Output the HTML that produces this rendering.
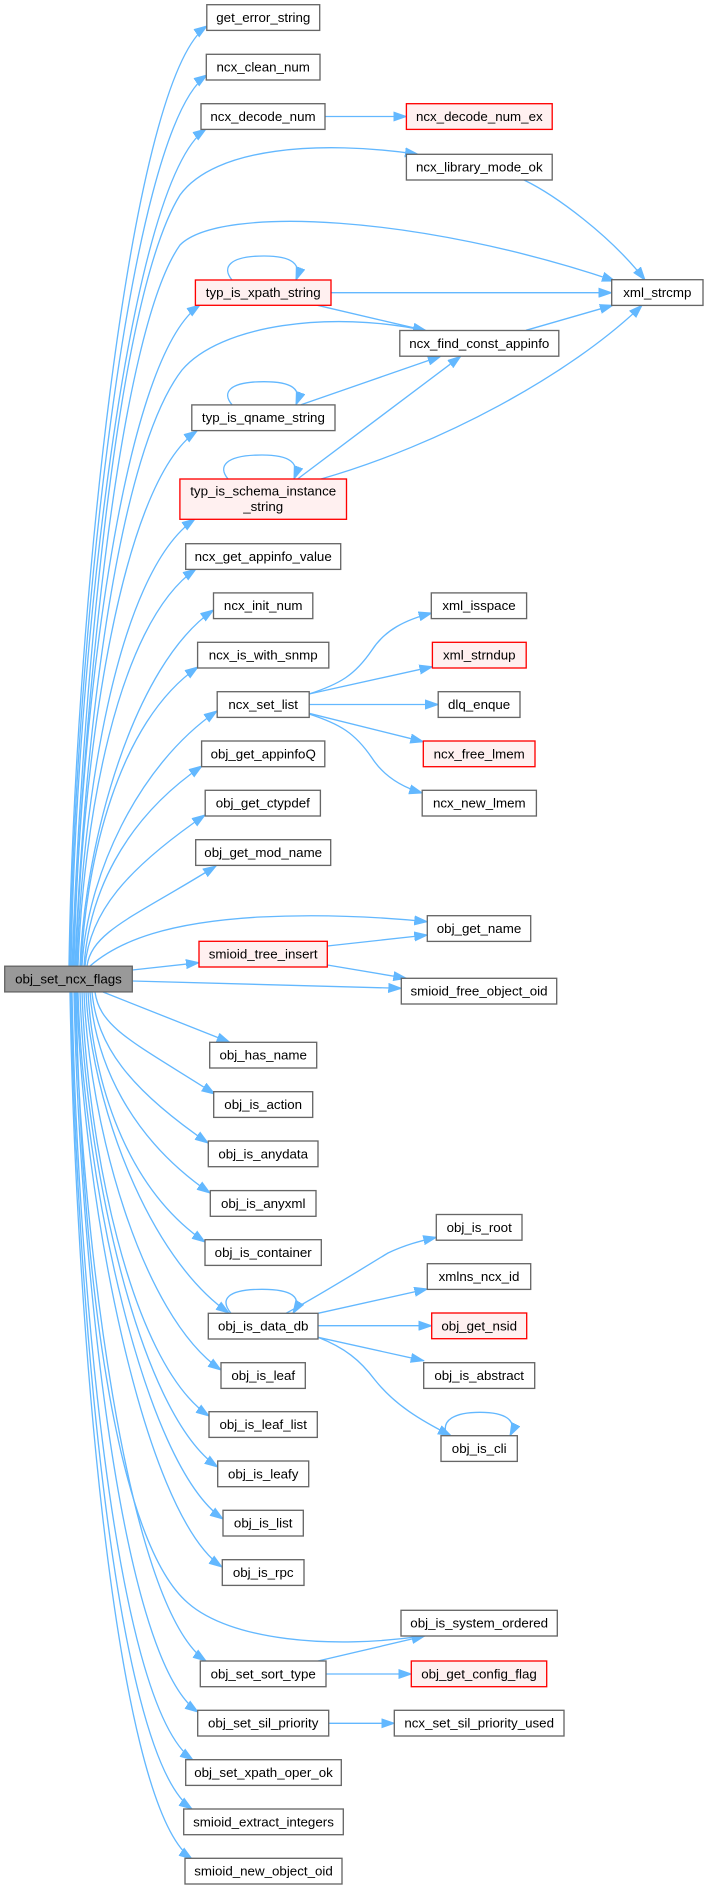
<!DOCTYPE html>
<html><head><meta charset="utf-8"><style>
html,body{margin:0;padding:0;background:#fff;}
svg{display:block;}
text{font-family:"Liberation Sans",Arial,sans-serif;font-size:13.33px;fill:#000;text-anchor:middle;}
.n{fill:#fff;stroke:#666;stroke-width:1.33;}
.r{fill:#fff0f0;stroke:#ff0000;stroke-width:1.33;}
.g{fill:#999;stroke:#666;stroke-width:1.33;}
.e{fill:none;stroke:#63b8ff;stroke-width:1.33;marker-end:url(#a);}
</style></head><body>
<svg width="708" height="1889" viewBox="0 0 708 1889" xmlns="http://www.w3.org/2000/svg">
<defs><marker id="a" markerUnits="userSpaceOnUse" markerWidth="14" markerHeight="10" refX="13" refY="5" orient="auto"><path d="M0,0.5 L13,5 L0,9.5z" fill="#63b8ff" stroke="#63b8ff" stroke-width="1"/></marker></defs>

<!-- edges from obj_set_ncx_flags upward -->
<path class="e" d="M69,966 C74,637 127,81 207,26"/>
<path class="e" d="M70,966 C75,654 127,130 207,75"/>
<path class="e" d="M71,966 C76,673 126,184 206,129"/>
<path class="e" d="M72,966 C82,700 115,300 180,195 C215,147 320,140 418,154.3"/>
<path class="e" d="M73,966 C83,700 120,330 180,245 C220,205 420,215 615,281"/>
<path class="e" d="M74,966 C79,735 120,360 200,305"/>
<path class="e" d="M75,966 C85,720 120,450 182,370 C220,325 330,310 426,330.7"/>
<path class="e" d="M76,966 C81,779 117,486 197,431"/>
<path class="e" d="M77,966 C82,810 115,574 195,519"/>
<path class="e" d="M78,966 C83,827 116,624 196,569"/>
<path class="e" d="M80,966 C85,841 133.5,665 213.5,610"/>
<path class="e" d="M81,966 C86,861 118,722 198,667"/>
<path class="e" d="M82,966 C87,877 137,766 217,711"/>
<path class="e" d="M84,966 C89,896 122,821 202,766"/>
<path class="e" d="M85,966 C90,913 125,870 205,815"/>
<path class="e" d="M87,966 C92,931 136,916 216,866"/>
<path class="e" d="M90,966 C120,940 170,922 260,917 C320,914 380,917 427.3,921.7"/>
<path class="e" d="M132.3,970 L199,962.7"/>
<path class="e" d="M132.3,981 C250,984 330,986 401.3,988.3"/>

<!-- edges from obj_set_ncx_flags downward -->
<path class="e" d="M103,992 L229.7,1042.3"/>
<path class="e" d="M95,992 C100,1028 134.7,1043 214.7,1094"/>
<path class="e" d="M92,992 C97,1045 128,1088 208,1143"/>
<path class="e" d="M90,992 C95,1062 130,1138 210,1193"/>
<path class="e" d="M88,992 C93,1080 125,1187 205,1242"/>
<path class="e" d="M86,992 C91,1104 149,1258 229,1313"/>
<path class="e" d="M84,992 C89,1124 141,1315 221,1370"/>
<path class="e" d="M82,992 C87,1140 129,1361 209,1416"/>
<path class="e" d="M80,992 C85,1158 137.7,1412 217.7,1467"/>
<path class="e" d="M78,992 C83,1176 143,1464 223,1519"/>
<path class="e" d="M77,992 C82,1193 142,1512 222,1567"/>
<path class="e" d="M76,992 C82,1300 120,1545 188,1603 C230,1640 330,1650 424.7,1635.7"/>
<path class="e" d="M75,992 C80,1226 126,1606 206,1661"/>
<path class="e" d="M74,992 C79,1244 118,1657 198,1712"/>
<path class="e" d="M72,992 C77,1261 113,1705 193,1760"/>
<path class="e" d="M71,992 C76,1278 112,1754 192,1809"/>
<path class="e" d="M70,992 C75,1295 112,1804 192,1859"/>

<!-- secondary edges -->
<path class="e" d="M325,116.5 L406.4,116.5"/>
<path class="e" d="M524,180 C555,195 610,235 645,280"/>
<path class="e" d="M232,280 C222,268 228,256 264,256 C292,256 302,264 296,280"/>
<path class="e" d="M331,292.7 L611.7,292.7"/>
<path class="e" d="M317.5,305.3 L426,330.7"/>
<path class="e" d="M526,330.3 L612.8,305.3"/>
<path class="e" d="M232,404.7 C222,393 228,381.7 264,381.7 C292,381.7 302,389 296,404.7"/>
<path class="e" d="M301,404.7 L440.7,356.3"/>
<path class="e" d="M228,479 C218,467 224,455 262,455 C290,455 300,463 294,479"/>
<path class="e" d="M297.6,479 L460.7,356.3"/>
<path class="e" d="M321,479 C440,445 570,375 642,305.3"/>
<path class="e" d="M309,694 C340,684 355,675 372,650 C385,630 405,620 431.7,613"/>
<path class="e" d="M309,694 L432.4,666.7"/>
<path class="e" d="M309,704.5 L438.2,704.5"/>
<path class="e" d="M309,713.3 L423.3,741.7"/>
<path class="e" d="M309,714 C340,724 355,733 372,758 C385,778 405,788 422.2,793"/>
<path class="e" d="M327.3,946 L427.3,935"/>
<path class="e" d="M327.3,965 L406.3,978.3"/>
<path class="e" d="M231,1313.3 C220,1300 226,1289.3 262,1289.3 C292,1289.3 303,1297 293,1313.3"/>
<path class="e" d="M286,1313.3 C320,1295 360,1270 388,1253 C405,1245 420,1241 436.3,1237.3"/>
<path class="e" d="M318,1313.3 L427.3,1289"/>
<path class="e" d="M318,1325.7 L431.7,1325.7"/>
<path class="e" d="M318,1337.3 L423.7,1360.7"/>
<path class="e" d="M318,1337.3 C345,1348 360,1360 375,1380 C395,1405 420,1420 451,1435.7"/>
<path class="e" d="M447,1435.7 C440,1420 455,1412.3 480,1412.3 C505,1412.3 518,1420 510,1435.7"/>
<path class="e" d="M318,1661 L424.7,1636"/>
<path class="e" d="M326,1674 L411.3,1674"/>
<path class="e" d="M328.7,1723.3 L394.3,1723.3"/>

<!-- nodes -->
<rect class="n" x="206.8" y="4.7" width="112.9" height="25.7"/><text x="263.3" y="22">get_error_string</text>
<rect class="n" x="206.3" y="54.3" width="113.7" height="25.7"/><text x="263.2" y="71.6">ncx_clean_num</text>
<rect class="n" x="201" y="103.7" width="124" height="25.7"/><text x="263" y="121">ncx_decode_num</text>
<rect class="r" x="406.4" y="103.7" width="145.8" height="25.7"/><text x="479.3" y="121">ncx_decode_num_ex</text>
<rect class="n" x="406.4" y="154.3" width="145.8" height="25.7"/><text x="479.3" y="171.6">ncx_library_mode_ok</text>
<rect class="n" x="611.7" y="279.7" width="91.3" height="25.7"/><text x="657.3" y="297">xml_strcmp</text>
<rect class="r" x="195.4" y="280" width="135.6" height="25.3"/><text x="263.2" y="297.2">typ_is_xpath_string</text>
<rect class="n" x="399.8" y="330.5" width="159" height="25.7"/><text x="479.3" y="347.8">ncx_find_const_appinfo</text>
<rect class="n" x="191.8" y="404.9" width="143.2" height="25.7"/><text x="263.4" y="422.2">typ_is_qname_string</text>
<rect class="r" x="179.9" y="479" width="166.6" height="40.3"/><text x="263.2" y="495.5">typ_is_schema_instance</text><text x="263.2" y="510.8">_string</text>
<rect class="n" x="185.7" y="543.7" width="155" height="25.7"/><text x="263.2" y="561">ncx_get_appinfo_value</text>
<rect class="n" x="213.5" y="592.9" width="99.3" height="25.7"/><text x="263.2" y="610.2">ncx_init_num</text>
<rect class="n" x="197.6" y="642.3" width="131.2" height="25.7"/><text x="263.2" y="659.6">ncx_is_with_snmp</text>
<rect class="n" x="217.2" y="691.7" width="92" height="25.7"/><text x="263.2" y="709">ncx_set_list</text>
<rect class="n" x="201.6" y="741" width="123.2" height="25.7"/><text x="263.2" y="758.3">obj_get_appinfoQ</text>
<rect class="n" x="205.2" y="790.3" width="115.2" height="25.7"/><text x="262.8" y="807.6">obj_get_ctypdef</text>
<rect class="n" x="195.7" y="839.7" width="135" height="25.7"/><text x="263.2" y="857">obj_get_mod_name</text>
<rect class="n" x="431.3" y="592.9" width="95.3" height="25.7"/><text x="479" y="610.2">xml_isspace</text>
<rect class="r" x="432.4" y="642.3" width="93.8" height="25.7"/><text x="479.3" y="659.6">xml_strndup</text>
<rect class="n" x="438.2" y="691.7" width="81.8" height="25.7"/><text x="479.1" y="709">dlq_enque</text>
<rect class="r" x="423.3" y="741" width="111.7" height="25.7"/><text x="479.2" y="758.3">ncx_free_lmem</text>
<rect class="n" x="422.2" y="790.3" width="114.2" height="25.7"/><text x="479.3" y="807.6">ncx_new_lmem</text>
<rect class="n" x="427.3" y="915.7" width="103.4" height="25.7"/><text x="479" y="933">obj_get_name</text>
<rect class="r" x="199" y="941.3" width="128.3" height="25.7"/><text x="263.2" y="958.6">smioid_tree_insert</text>
<rect class="g" x="4.7" y="966.2" width="127.6" height="25.7"/><text x="68.5" y="983.5">obj_set_ncx_flags</text>
<rect class="n" x="401.3" y="978.3" width="155.4" height="25.7"/><text x="479" y="995.6">smioid_free_object_oid</text>
<rect class="n" x="209.7" y="1042.3" width="107" height="25.7"/><text x="263.2" y="1059.6">obj_has_name</text>
<rect class="n" x="213.7" y="1091.7" width="99" height="25.7"/><text x="263.2" y="1109">obj_is_action</text>
<rect class="n" x="208.3" y="1141" width="109.7" height="25.7"/><text x="263.2" y="1158.3">obj_is_anydata</text>
<rect class="n" x="210.3" y="1190.6" width="105.7" height="25.7"/><text x="263.2" y="1207.9">obj_is_anyxml</text>
<rect class="n" x="205" y="1239.7" width="116.3" height="25.7"/><text x="263.2" y="1257">obj_is_container</text>
<rect class="n" x="208.3" y="1313.3" width="109.7" height="25.7"/><text x="263.2" y="1330.6">obj_is_data_db</text>
<rect class="n" x="221" y="1362.7" width="84.3" height="25.7"/><text x="263.2" y="1380">obj_is_leaf</text>
<rect class="n" x="209" y="1411.7" width="108.3" height="25.7"/><text x="263.2" y="1429">obj_is_leaf_list</text>
<rect class="n" x="217.7" y="1461" width="91" height="25.7"/><text x="263.2" y="1478.3">obj_is_leafy</text>
<rect class="n" x="223" y="1510.3" width="80.3" height="25.7"/><text x="263.2" y="1527.6">obj_is_list</text>
<rect class="n" x="222.3" y="1559.7" width="81.7" height="25.7"/><text x="263.2" y="1577">obj_is_rpc</text>
<rect class="n" x="200.3" y="1661" width="125.7" height="25.7"/><text x="263.2" y="1678.3">obj_set_sort_type</text>
<rect class="n" x="197.7" y="1710.3" width="131" height="25.7"/><text x="263.2" y="1727.6">obj_set_sil_priority</text>
<rect class="n" x="185.7" y="1759.7" width="155.6" height="25.7"/><text x="263.5" y="1777">obj_set_xpath_oper_ok</text>
<rect class="n" x="183.7" y="1809" width="159.6" height="25.7"/><text x="263.5" y="1826.3">smioid_extract_integers</text>
<rect class="n" x="185" y="1858.3" width="157" height="25.7"/><text x="263.5" y="1875.6">smioid_new_object_oid</text>
<rect class="n" x="436.3" y="1214.5" width="85.7" height="25.7"/><text x="479.2" y="1231.8">obj_is_root</text>
<rect class="n" x="427.3" y="1263.7" width="103.4" height="25.7"/><text x="479" y="1281">xmlns_ncx_id</text>
<rect class="r" x="431.7" y="1313" width="95" height="25.7"/><text x="479.2" y="1330.3">obj_get_nsid</text>
<rect class="n" x="423.7" y="1362.7" width="111" height="25.7"/><text x="479.2" y="1380">obj_is_abstract</text>
<rect class="n" x="441" y="1435.7" width="76.3" height="25.7"/><text x="479.2" y="1453">obj_is_cli</text>
<rect class="n" x="401" y="1610.3" width="156.3" height="25.7"/><text x="479.2" y="1627.6">obj_is_system_ordered</text>
<rect class="r" x="411.3" y="1661" width="135.4" height="25.7"/><text x="479" y="1678.3">obj_get_config_flag</text>
<rect class="n" x="394.3" y="1710.3" width="169.7" height="25.7"/><text x="479.2" y="1727.6">ncx_set_sil_priority_used</text>
</svg>
</body></html>
